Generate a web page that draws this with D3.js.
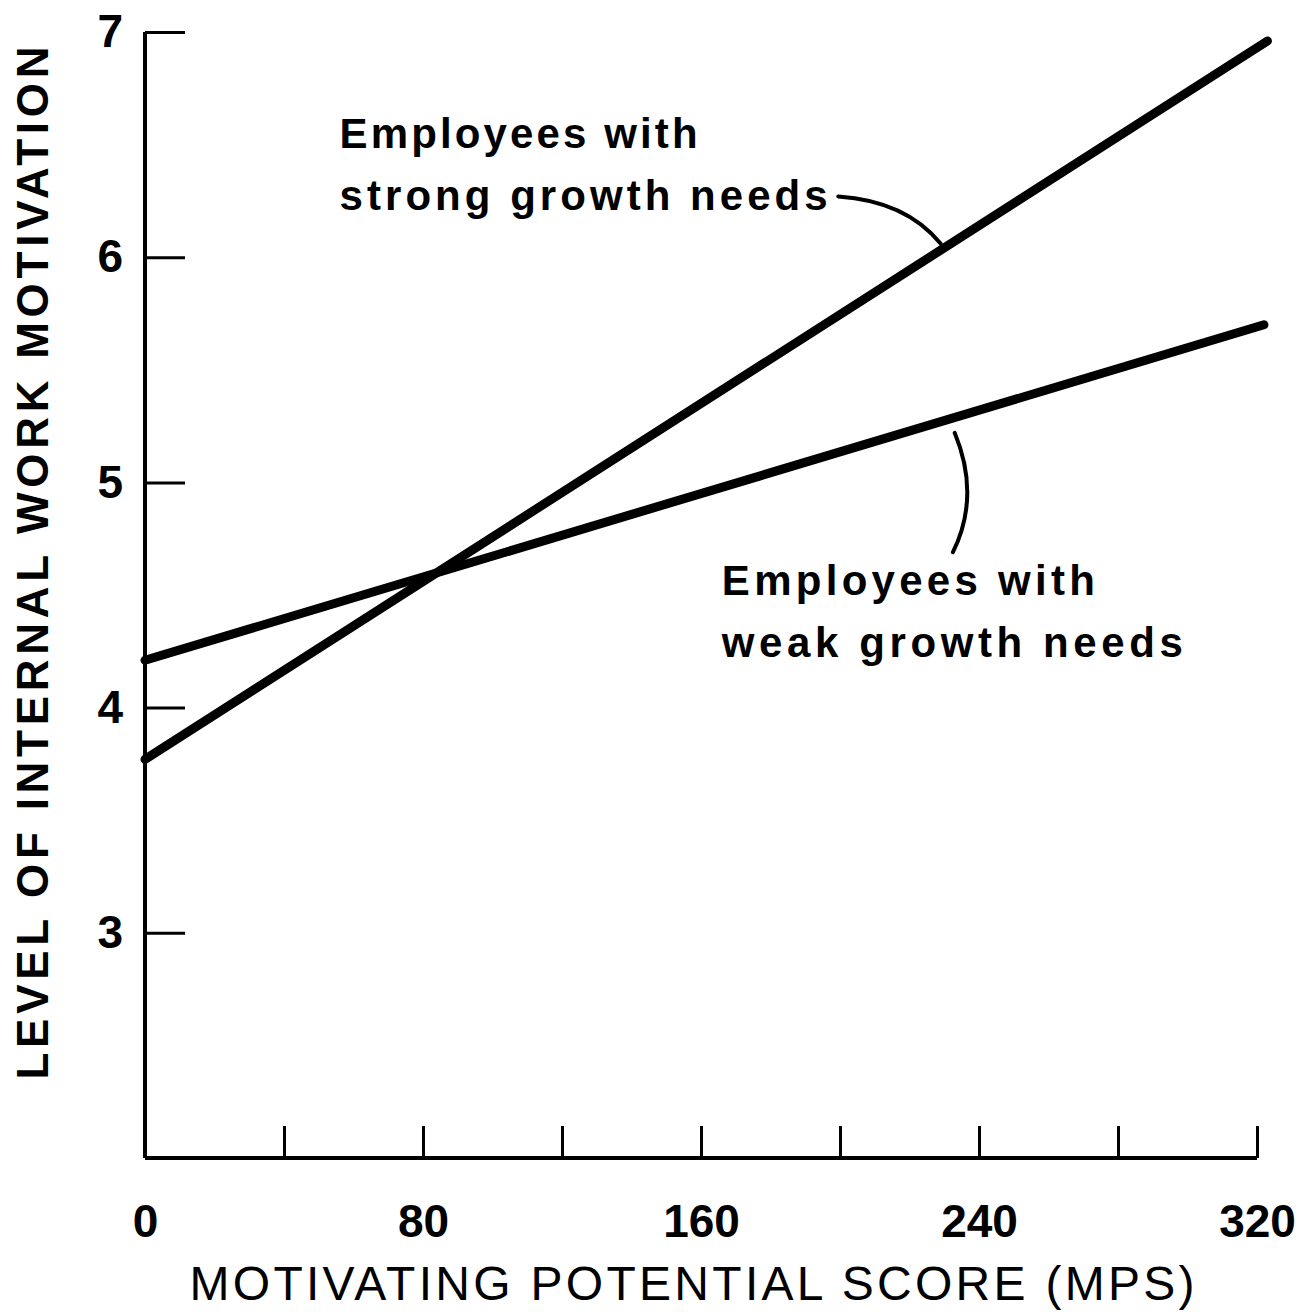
<!DOCTYPE html>
<html>
<head>
<meta charset="utf-8">
<script src="https://cdn.jsdelivr.net/npm/d3@7"></script>
<style>
  html, body { margin: 0; padding: 0; background: #fff; }
  svg { display: block; }
  text { font-family: "Liberation Sans", Arial, sans-serif; fill: #000; }
</style>
</head>
<body>
<svg id="chart" width="1311" height="1312"></svg>
<script>
// data (MPS vs. level of internal work motivation)
const mpsTicks = [0, 40, 80, 120, 160, 200, 240, 280, 320];
const mpsLabels = [0, 80, 160, 240, 320];
const motivationTicks = [3, 4, 5, 6, 7];
const strongGrowth = [[0, 3.77], [323, 6.96]];
const weakGrowth = [[0, 4.21], [322, 5.70]];
const strongLabel = ["Employees with", "strong growth needs"];
const weakLabel = ["Employees with", "weak growth needs"];

const widthSVG = 1311, heightSVG = 1312;
const svg = d3.select("#chart");

const x = d3.scaleLinear().domain([0, 320]).range([145, 1257]);
const y = d3.scaleLinear().domain([2, 7]).range([1158, 32]);

// y axis, ticks point into the plot
const yAxis = d3.axisLeft(y)
    .tickValues(motivationTicks)
    .tickSizeInner(-40)
    .tickSizeOuter(0)
    .tickPadding(22)
    .tickFormat(d3.format("d"));

svg.append("g")
    .attr("transform", `translate(${x(0)},0)`)
    .call(yAxis)
    .call(g => g.select(".domain").attr("stroke-width", 4).attr("d", `M0,${y(7)}V${y(2)}`))
    .call(g => g.selectAll(".tick line").attr("stroke-width", 3))
    .call(g => g.selectAll(".tick text")
        .style("font-size", "46px").style("font-weight", "bold").attr("fill", "#000"));

// x axis, ticks point up
const xAxis = d3.axisBottom(x)
    .tickValues(mpsTicks)
    .tickSizeInner(-32)
    .tickSizeOuter(0)
    .tickPadding(46)
    .tickFormat(d => mpsLabels.includes(d) ? d : "");

svg.append("g")
    .attr("transform", `translate(0,${y(2)})`)
    .call(xAxis)
    .call(g => g.select(".domain").attr("stroke-width", 4).attr("d", `M${x(0)},0H${x(320)}`))
    .call(g => g.selectAll(".tick line").attr("stroke-width", 3))
    .call(g => g.selectAll(".tick text")
        .style("font-size", "46px").style("font-weight", "bold").attr("fill", "#000"));

// axis titles
svg.append("text")
    .attr("x", 692).attr("y", 1300)
    .attr("text-anchor", "middle")
    .attr("textLength", 1005).attr("lengthAdjust", "spacing")
    .style("font-size", "48px")
    .text("MOTIVATING POTENTIAL SCORE (MPS)");

svg.append("text")
    .attr("transform", "translate(48,563) rotate(-90)")
    .attr("text-anchor", "middle")
    .attr("textLength", 1033).attr("lengthAdjust", "spacing")
    .style("font-size", "44px").style("font-weight", "bold")
    .text("LEVEL OF INTERNAL WORK MOTIVATION");

// the two regression lines
const line = d3.line().x(d => x(d[0])).y(d => y(d[1]));
[strongGrowth, weakGrowth].forEach(series => {
    svg.append("path")
        .datum(series)
        .attr("d", line)
        .attr("fill", "none")
        .attr("stroke", "#000")
        .attr("stroke-width", 9)
        .attr("stroke-linecap", "round");
});

// labels with curved leaders (positions in data units)
const labelLayout = [
    { lines: strongLabel, at: [56, 6.485], widths: [358, 488],
      leader: [[199.5, 6.27], [219, 6.25], [229, 6.06]] },
    { lines: weakLabel, at: [166, 4.50], widths: [373, 461],
      leader: [[233, 5.22], [240.5, 4.94], [232.5, 4.69]] }
];
const rowGap = 62;

labelLayout.forEach(l => {
    l.lines.forEach((t, i) => {
        svg.append("text")
            .attr("x", x(l.at[0]))
            .attr("y", y(l.at[1]) + i * rowGap)
            .attr("textLength", l.widths[i]).attr("lengthAdjust", "spacing")
            .style("font-size", "42px").style("font-weight", "bold")
            .text(t);
    });
    const [p0, c, p1] = l.leader.map(d => [x(d[0]), y(d[1])]);
    const path = d3.path();
    path.moveTo(p0[0], p0[1]);
    path.quadraticCurveTo(c[0], c[1], p1[0], p1[1]);
    svg.append("path")
        .attr("d", path.toString())
        .attr("fill", "none")
        .attr("stroke", "#000")
        .attr("stroke-width", 4)
        .attr("stroke-linecap", "round");
});
</script>
</body>
</html>
